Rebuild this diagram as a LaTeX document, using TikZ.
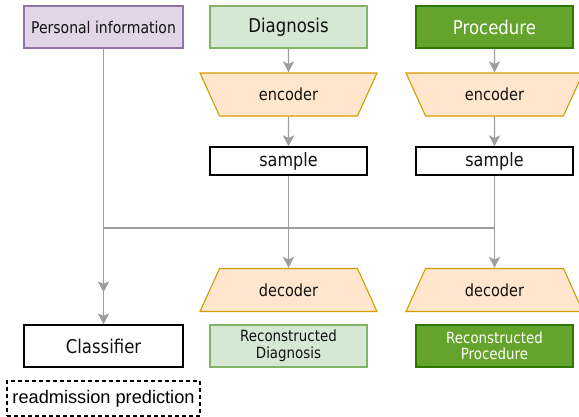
\documentclass[tikz,border=0pt]{standalone}
\usepackage{fontspec}
\setmainfont{DejaVu Sans}[FakeStretch=0.87]
\newfontfamily\arialfont{Liberation Sans}
\usetikzlibrary{shapes.geometric,arrows.meta}

\definecolor{persfill}{HTML}{E1D5E7}
\definecolor{persline}{HTML}{9673A6}
\definecolor{diagfill}{HTML}{D5E8D4}
\definecolor{diagline}{HTML}{82B366}
\definecolor{procfill}{HTML}{64A42C}
\definecolor{procline}{HTML}{2D7600}
\definecolor{codefill}{HTML}{FFE6CC}
\definecolor{codeline}{HTML}{D79B00}
\definecolor{arrowgray}{HTML}{9E9E9E}
\definecolor{textdark}{HTML}{111111}

\begin{document}
\begin{tikzpicture}[x=1pt, y=-1pt, node distance=185pt, text=textdark,
        box/.style={draw, line width=1.1pt, minimum width=157pt, minimum height=42pt, inner sep=0pt, align=center},
        coder/.style={trapezium, draw=codeline, fill=codefill, line width=1.1pt, trapezium angle=57,
            trapezium stretches=true, minimum width=178pt, minimum height=43pt, inner sep=0pt,
            font=\fontsize{16.7}{19}\selectfont},
        flow/.style={->, draw=arrowgray, line width=1.4pt, >={Stealth[length=11pt, width=11pt, inset=2.5pt]}}]
        \useasboundingbox (0,0) rectangle (579,417);

        % Inputs (Top Row)
        \node[box, draw=persline, fill=persfill, minimum width=159pt, font=\fontsize{16.1}{18}\selectfont] (PI) at (103.5,27) {Personal information};
        \node[box, draw=diagline, fill=diagfill, font=\fontsize{19}{21}\selectfont] (Diag) [right of=PI] {Diagnosis};
        \node[box, draw=procline, fill=procfill, text=white, font=\fontsize{19}{21}\selectfont] (Proc) [right of=Diag, node distance=206pt] {Procedure};

        % Encoders
        \node[coder, shape border rotate=180] (EncD) [below of=Diag, node distance=67.5pt] {encoder};
        \node[coder, shape border rotate=180] (EncP) [below of=Proc, node distance=67.5pt] {encoder};

        % Samples
        \node[box, fill=white, minimum height=28pt, font=\fontsize{18.4}{21}\selectfont] (SampD) [below of=EncD, node distance=66.5pt] {sample};
        \node[box, fill=white, minimum height=28pt, font=\fontsize{18.4}{21}\selectfont] (SampP) [below of=EncP, node distance=66.5pt] {sample};

        % Decoders
        \node[coder] (DecD) [below of=SampD, node distance=129pt] {decoder};
        \node[coder] (DecP) [below of=SampP, node distance=129pt] {decoder};

        % Outputs (Bottom Row)
        \node[box, fill=white, minimum width=159pt, font=\fontsize{19}{21}\selectfont] (Cls) [below of=PI, node distance=319pt] {Classifier};
        \node[box, draw=diagline, fill=diagfill, font=\fontsize{15.4}{16.5}\selectfont] (RecD) [below of=DecD, node distance=56pt] {Reconstructed\\Diagnosis};
        \node[box, draw=procline, fill=procfill, text=white, font=\fontsize{15.4}{16.5}\selectfont] (RecP) [below of=DecP, node distance=56pt] {Reconstructed\\Procedure};
        \node[draw, dash pattern=on 4pt off 3pt, line width=1.1pt, minimum width=193pt, minimum height=35pt, inner sep=0pt,
            font=\arialfont\fontsize{18.2}{20}\selectfont, text=black] (Pred) [below of=Cls, node distance=52.5pt] {readmission prediction};

        % Junction of the latent paths
        \coordinate (Join) at (PI |- 0,228);

        % Connectors
        \draw[flow] (Diag) -- (EncD);
        \draw[flow] (EncD) -- (SampD);
        \draw[flow] (SampD) -- (DecD);
        \draw[flow] (Proc) -- (EncP);
        \draw[flow] (EncP) -- (SampP);
        \draw[flow] (SampP) -- (DecP);
        \draw[flow] (PI) -- (Cls);
        \draw[flow, shorten >=32pt] (SampP) |- (Join) -- (Cls);
    \end{tikzpicture}
\end{document}
